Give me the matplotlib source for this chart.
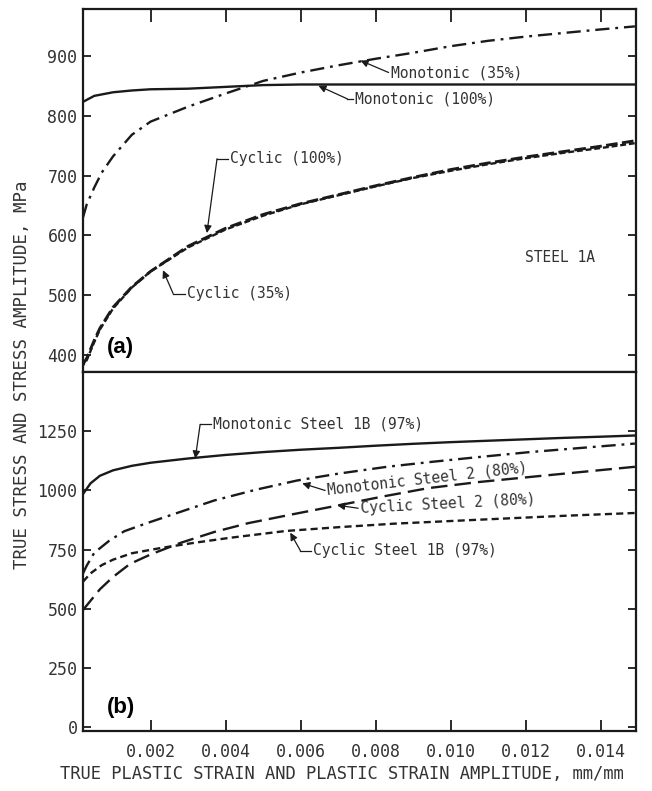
import matplotlib
matplotlib.use('Agg')
import matplotlib.pyplot as plt

# --- data (strain in mm/mm, stress in MPa) ---
# panel (a) steel 1A
mono100_x = [0.0002, 0.0005, 0.001, 0.0015, 0.002, 0.003, 0.004, 0.005, 0.006, 0.008, 0.010, 0.012, 0.0149]
mono100_y = [823, 833, 839, 842, 844, 845, 848, 851, 852, 852, 852, 852, 852]

mono35_x = [0.0002, 0.0003, 0.0005, 0.0007, 0.001, 0.0015, 0.002, 0.003, 0.004, 0.005, 0.006,
            0.007, 0.008, 0.009, 0.010, 0.011, 0.012, 0.013, 0.014, 0.0149]
mono35_y = [630, 652, 680, 705, 732, 768, 790, 815, 837, 858, 872,
            884, 895, 905, 916, 925, 932, 938, 944, 949]

cyc_x = [0.0002, 0.0003, 0.0005, 0.00065, 0.001, 0.0015, 0.002, 0.003, 0.004, 0.005, 0.006,
         0.007, 0.008, 0.009, 0.010, 0.011, 0.012, 0.013, 0.014, 0.0149]
cyc100_y = [385, 395, 425, 445, 480, 514, 540, 582, 612, 635, 653,
            668, 683, 697, 710, 721, 731, 740, 749, 758]
cyc35_y = [383, 392, 422, 443, 478, 513, 540, 580, 610, 633, 652,
           667, 682, 696, 708, 719, 729, 738, 746, 754]

# panel (b) steels 1B and 2
mono1b_x = [0.0002, 0.0004, 0.00065, 0.001, 0.0015, 0.002, 0.003, 0.004, 0.005, 0.006, 0.007,
            0.008, 0.009, 0.010, 0.011, 0.012, 0.013, 0.014, 0.0149]
mono1b_y = [985, 1030, 1062, 1085, 1104, 1117, 1135, 1150, 1162, 1172, 1180,
            1189, 1197, 1204, 1210, 1216, 1222, 1227, 1232]

mono2_x = [0.0002, 0.0003, 0.0005, 0.0009, 0.0013, 0.0019, 0.0028, 0.0037, 0.0048, 0.0059,
           0.0070, 0.0083, 0.0095, 0.0108, 0.0121, 0.0135, 0.0149]
mono2_y = [650, 683, 737, 788, 828, 862, 910, 958, 1003, 1042,
           1071, 1100, 1121, 1142, 1162, 1180, 1198]

cyc2_x = [0.0002, 0.0003, 0.00065, 0.001, 0.00145, 0.002, 0.0028, 0.0037, 0.0046, 0.0058,
          0.0070, 0.0082, 0.0094, 0.0107, 0.0123, 0.0136, 0.0149]
cyc2_y = [495, 515, 583, 635, 690, 730, 779, 825, 862, 900,
          937, 975, 1010, 1035, 1060, 1080, 1100]

cyc1b_x = [0.0002, 0.0004, 0.0007, 0.001, 0.0015, 0.0023, 0.0032, 0.0041, 0.0056, 0.0070,
           0.0085, 0.0108, 0.0130, 0.0149]
cyc1b_y = [615, 650, 685, 708, 735, 758, 780, 800, 829, 845,
           860, 877, 893, 905]

x_ticks = [0.002, 0.004, 0.006, 0.008, 0.010, 0.012, 0.014]
x_labels = ['0.002', '0.004', '0.006', '0.008', '0.010', '0.012', '0.014']
ya_ticks = [400, 500, 600, 700, 800, 900]
yb_ticks = [0, 250, 500, 750, 1000, 1250]

INK = '#1a1a1a'
TXT = '#333333'
MONO = 'DejaVu Sans Mono'

fig = plt.figure(figsize=(6.52, 7.91), dpi=100)
ax_a = fig.add_axes([0.1273, 0.5297, 0.8482, 0.4589])
ax_b = fig.add_axes([0.1273, 0.0759, 0.8482, 0.4538])

for ax in (ax_a, ax_b):
    ax.set_xlim(0.0002, 0.01493)
    for s in ax.spines.values():
        s.set_linewidth(1.6)
        s.set_color(INK)
    ax.tick_params(direction='in', colors=INK, labelcolor=TXT, width=1.3,
                   labelsize=12, length=6)

ax_a.set_ylim(372, 978)
ax_b.set_ylim(-15, 1500)

ax_a.set_xticks(x_ticks)
ax_a.tick_params(axis='x', bottom=False, top=True, labelbottom=False, length=9)
ax_a.set_yticks(ya_ticks)
ax_a.tick_params(axis='y', left=True, right=True, pad=4)

ax_b.set_xticks(x_ticks)
ax_b.set_xticklabels(x_labels, family=MONO)
ax_b.tick_params(axis='x', bottom=True, top=False, length=8, pad=9)
ax_b.set_yticks(yb_ticks)
ax_b.tick_params(axis='y', left=True, right=True, pad=4)
ax_a.set_yticklabels([str(v) for v in ya_ticks], family=MONO)
ax_b.set_yticklabels([str(v) for v in yb_ticks], family=MONO)

lw = 1.7
# panel (a)
ax_a.plot(mono100_x, mono100_y, color=INK, lw=lw, solid_capstyle='round')
ax_a.plot(mono35_x, mono35_y, color=INK, lw=lw, linestyle=(0, (6, 2.5, 1.2, 2.5)))
ax_a.plot(cyc_x, cyc100_y, color=INK, lw=lw + 0.4, linestyle=(0, (4, 1.5)))
ax_a.plot(cyc_x, cyc35_y, color=INK, lw=lw, linestyle=(1.5, (2.5, 1.2)))

# panel (b)
ax_b.plot(mono1b_x, mono1b_y, color=INK, lw=lw)
ax_b.plot(mono2_x, mono2_y, color=INK, lw=lw, linestyle=(0, (6, 2.5, 1.2, 2.5)))
ax_b.plot(cyc2_x, cyc2_y, color=INK, lw=lw, linestyle=(0, (7, 3)))
ax_b.plot(cyc1b_x, cyc1b_y, color=INK, lw=lw, linestyle=(0, (3, 1.8)))


def leader(ax, label, text_xy, corner, tip, rot=0, fs=10.5):
    ax.text(text_xy[0], text_xy[1], label, family=MONO, fontsize=fs, color=TXT,
            ha='left', va='center', rotation=rot, rotation_mode='anchor')
    if corner is not None:
        ax.plot([text_xy[0] - 0.00006, corner[0]], [text_xy[1], corner[1]],
                color=INK, lw=0.9)
        start = corner
    else:
        start = (text_xy[0] - 0.00006, text_xy[1])
    ax.annotate('', xy=tip, xytext=start,
                arrowprops=dict(arrowstyle='-|>', color=INK, lw=0.9,
                                mutation_scale=11, shrinkA=0, shrinkB=0))


leader(ax_a, 'Monotonic (35%)', (0.0084, 872), None, (0.00759, 892))
leader(ax_a, 'Monotonic (100%)', (0.00745, 828), (0.00724, 828), (0.00647, 850))
leader(ax_a, 'Cyclic (100%)', (0.00412, 728), (0.00377, 728), (0.0035, 604))
leader(ax_a, 'Cyclic (35%)', (0.00297, 503), (0.0026, 503), (0.00233, 542))
ax_a.text(0.0129, 563, 'STEEL 1A', family=MONO, fontsize=10.5, color=TXT,
          ha='center', va='center')
ax_a.text(0.00084, 413, '(a)', family='Liberation Sans', fontweight='bold',
          fontsize=16, color='black', ha='left', va='center')

leader(ax_b, 'Monotonic Steel 1B (97%)', (0.00367, 1279), (0.00332, 1279), (0.00319, 1135))
leader(ax_b, 'Monotonic Steel 2 (80%)', (0.00671, 1000), None, (0.00604, 1030), rot=6.5)
leader(ax_b, 'Cyclic Steel 2 (80%)', (0.00759, 925), None, (0.00697, 938), rot=3)
leader(ax_b, 'Cyclic Steel 1B (97%)', (0.00633, 746), (0.00599, 746), (0.00572, 822))
ax_b.text(0.00084, 83, '(b)', family='Liberation Sans', fontweight='bold',
          fontsize=16, color='black', ha='left', va='center')

fig.text(0.034, 0.526, 'TRUE STRESS AND STRESS AMPLITUDE, MPa', family=MONO,
         fontsize=12.5, color=TXT, rotation=90, ha='center', va='center')
fig.text(0.525, 0.021, 'TRUE PLASTIC STRAIN AND PLASTIC STRAIN AMPLITUDE, mm/mm',
         family=MONO, fontsize=12.3, color=TXT, ha='center', va='center')

fig.savefig('out.png', dpi=100, facecolor='white')
